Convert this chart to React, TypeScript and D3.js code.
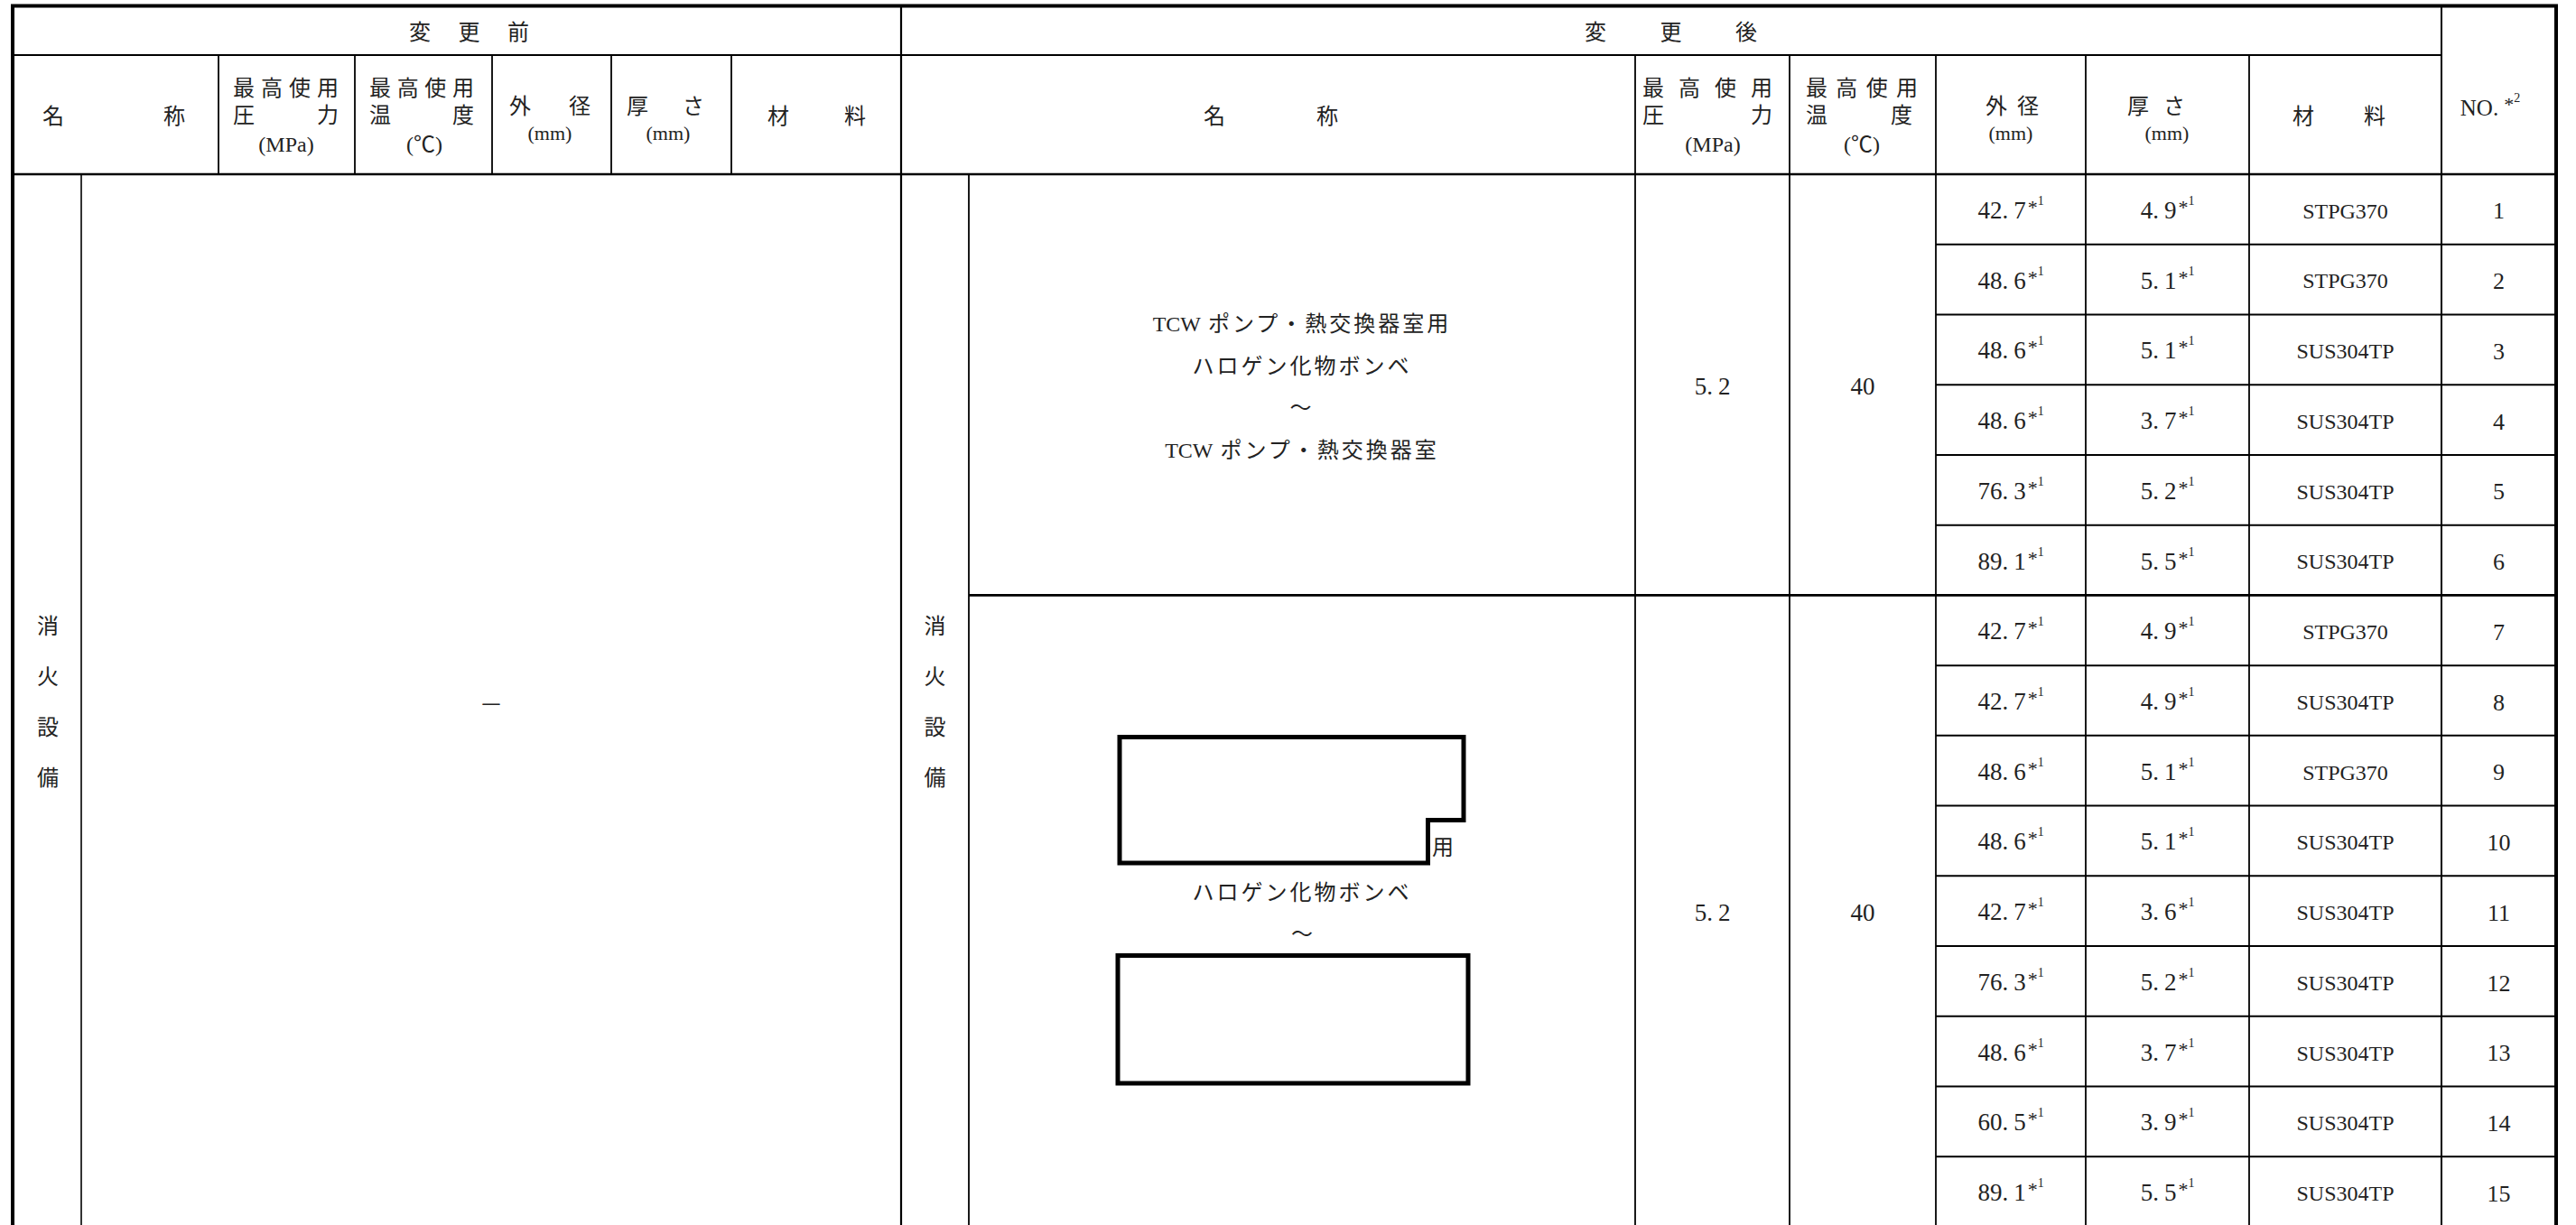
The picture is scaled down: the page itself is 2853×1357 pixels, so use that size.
import React from "react";
import * as d3 from "d3";

// ---------------- data ----------------
const beforeTitle = ["変", "更", "前"];
const afterTitle = ["変", "更", "後"];
const nameHeader = ["名", "称"];
const pressureHeader = ["最高使用", "圧力", "(MPa)"];
const temperatureHeader = ["最高使用", "温度", "(℃)"];
const diameterHeader = ["外径", "(mm)"];
const thicknessHeader = ["厚さ", "(mm)"];
const materialHeader = ["材料"];
const numberHeader = ["NO.", "*", "2"];
const facilityName = ["消", "火", "設", "備"];
const beforeValue = "—";
const group1Name = ["TCW ポンプ・熱交換器室用", "ハロゲン化物ボンベ", "～", "TCW ポンプ・熱交換器室"];
const group2Name = ["ハロゲン化物ボンベ", "～"];
const group2Suffix = "用";
const groupRowCounts = [6, 9];
const groupPressure = ["5.2", "5.2"];
const groupTemperature = ["40", "40"];
const outerDiameters = ["42.7", "48.6", "48.6", "48.6", "76.3", "89.1", "42.7", "42.7", "48.6", "48.6", "42.7", "76.3", "48.6", "60.5", "89.1"];
const wallThicknesses = ["4.9", "5.1", "5.1", "3.7", "5.2", "5.5", "4.9", "4.9", "5.1", "5.1", "3.6", "5.2", "3.7", "3.9", "5.5"];
const materials = ["STPG370", "STPG370", "SUS304TP", "SUS304TP", "SUS304TP", "SUS304TP", "STPG370", "SUS304TP", "STPG370", "SUS304TP", "SUS304TP", "SUS304TP", "SUS304TP", "SUS304TP", "SUS304TP"];
const pipeNumbers = ["1", "2", "3", "4", "5", "6", "7", "8", "9", "10", "11", "12", "13", "14", "15"];
const footnote = ["*", "1"];

// ---------------- layout ----------------
const W = 2853;
const H = 1357;
const X = {
  left: 14, subB: 90, b1: 242, b2: 393, b3: 545, b4: 677, b5: 810, mid: 998,
  subA: 1073, a1: 1811, a2: 1982, a3: 2144, a4: 2310, a5: 2491, a6: 2704, right: 2831,
};
const Y = { top: 6.5, h1: 61, h2: 193, end: 1359 };
const CJK = "'Noto Sans CJK JP', sans-serif";
const SERIF = "'Liberation Serif', 'Noto Sans CJK JP', serif";
const INK = "#222";

const totalRows = d3.sum(groupRowCounts);
const yRow = d3.scaleLinear().domain([0, totalRows]).range([Y.h2, Y.end]);
const groupStarts = [0, ...d3.cumsum(groupRowCounts)];

function spread(text: string, x0: number, x1: number) {
  const chars = Array.from(text);
  const s = d3.scalePoint<number>().domain(d3.range(chars.length)).range([x0, x1]);
  return chars.map((c, i) => ({ c, x: s(i) as number }));
}

type TP = { x: number; cy: number; size?: number; family?: string; ls?: number; children: React.ReactNode; anchor?: string };
const T = ({ x, cy, size = 24, family = CJK, ls = 0, children, anchor = "middle" }: TP) => (
  <text x={x} y={cy + size * 0.37} fontSize={size} fontFamily={family} fill={INK} textAnchor={anchor as any} letterSpacing={ls}>
    {children}
  </text>
);

const Spread = ({ text, x0, x1, cy, size = 24 }: { text: string; x0: number; x1: number; cy: number; size?: number }) => (
  <g>
    {spread(text, x0, x1).map((d, i) => (
      <T key={i} x={d.x} cy={cy} size={size}>{d.c}</T>
    ))}
  </g>
);

// Latin prefix kept tight, Japanese part letter-spaced like the source
const NameLine = ({ text }: { text: string }) => {
  const sp = text.indexOf(" ");
  if (sp < 0) return <tspan letterSpacing={3}>{text}</tspan>;
  return (
    <>
      <tspan letterSpacing={0}>{text.slice(0, sp)}</tspan>
      <tspan dx={8} letterSpacing={3}>{text.slice(sp + 1)}</tspan>
    </>
  );
};

// decimal number rendered in the "42. 7" style of the source (gap after the point)
const Dec = ({ value }: { value: string }) => {
  const [a, b] = value.split(".");
  return (
    <>
      <tspan>{a + (b !== undefined ? "." : "")}</tspan>
      {b !== undefined && <tspan dx={6}>{b}</tspan>}
    </>
  );
};

const NumSup = ({ x, cy, value }: { x: number; cy: number; value: string }) => (
  <text x={x} y={cy + 10} fontSize={27} fontFamily={SERIF} fill={INK} textAnchor="middle">
    <Dec value={value} />
    <tspan fontSize={22} dx={2} dy={-5}>{footnote[0]}</tspan>
    <tspan fontSize={14} dy={-10}>{footnote[1]}</tspan>
  </text>
);

type HL = { x1: number; x2: number; y: number; w?: number };
type VL = { x: number; y1: number; y2: number; w?: number };

export default function App() {
  const rowCenters = d3.range(totalRows).map((i) => (yRow(i) + yRow(i + 1)) / 2);
  const groupCenters = groupRowCounts.map((n, g) => (yRow(groupStarts[g]) + yRow(groupStarts[g] + n)) / 2);

  const hLines: HL[] = [
    { x1: X.left, x2: X.a6, y: Y.h1, w: 2 },
    { x1: X.left, x2: X.right, y: Y.h2, w: 2.5 },
  ];
  d3.range(1, totalRows).forEach((k) => {
    const isGroupEdge = groupStarts.includes(k);
    hLines.push({ x1: isGroupEdge ? X.subA : X.a3, x2: X.right, y: yRow(k), w: isGroupEdge ? 2.6 : 2 });
  });
  const bottom = 1400;
  const vLines: VL[] = [
    { x: X.subB, y1: Y.h2, y2: bottom, w: 1.6 },
    ...[X.b1, X.b2, X.b3, X.b4, X.b5].map((x) => ({ x, y1: Y.h1, y2: Y.h2, w: 1.8 })),
    { x: X.mid, y1: Y.top, y2: bottom, w: 2.2 },
    { x: X.subA, y1: Y.h2, y2: bottom, w: 1.8 },
    ...[X.a1, X.a2, X.a3, X.a4, X.a5].map((x) => ({ x, y1: Y.h1, y2: bottom, w: 1.8 })),
    { x: X.a6, y1: Y.top, y2: bottom, w: 2 },
  ];

  const facilityYs = d3.scalePoint<number>().domain(d3.range(facilityName.length)).range([693, 861]);
  const g1NameYs = d3.scalePoint<number>().domain(d3.range(group1Name.length)).range([358, 498]);
  const nameCx = (X.subA + X.a1) / 2;

  return (
    <>
      <style>{`html,body{margin:0;padding:0;overflow:hidden;background:#fff}`}</style>
      <svg width={W} height={H} viewBox={`0 0 ${W} ${H}`} style={{ display: "block" }}>
        <rect x={0} y={0} width={W} height={H} fill="#fff" />

        {/* grid lines */}
        {hLines.map((l, i) => (
          <line key={"h" + i} x1={l.x1} x2={l.x2} y1={l.y} y2={l.y} stroke="#000" strokeWidth={l.w} />
        ))}
        {vLines.map((l, i) => (
          <line key={"v" + i} x1={l.x} x2={l.x} y1={l.y1} y2={l.y2} stroke="#000" strokeWidth={l.w} />
        ))}
        <path d={`M${X.left},${bottom} V${Y.top} H${X.right} V${bottom}`} fill="none" stroke="#000" strokeWidth={4} />

        {/* header row 1 */}
        <Spread text={beforeTitle.join("")} x0={465} x1={574} cy={35} />
        <Spread text={afterTitle.join("")} x0={1767} x1={1934} cy={35} />

        {/* header row 2 : before */}
        <Spread text={nameHeader.join("")} x0={59} x1={193} cy={128} />
        <Spread text={pressureHeader[0]} x0={270} x1={363} cy={97} />
        <Spread text={pressureHeader[1]} x0={270} x1={363} cy={127} />
        <T x={317} cy={159} family={SERIF}>{pressureHeader[2]}</T>
        <Spread text={temperatureHeader[0]} x0={421} x1={513} cy={97} />
        <Spread text={temperatureHeader[1]} x0={421} x1={513} cy={127} />
        <T x={470} cy={159} family={SERIF}>{temperatureHeader[2]}</T>
        <Spread text={diameterHeader[0]} x0={576} x1={642} cy={117} />
        <T x={609} cy={147} size={22} family={SERIF}>{diameterHeader[1]}</T>
        <Spread text={thicknessHeader[0]} x0={706} x1={768} cy={117} />
        <T x={740} cy={147} size={22} family={SERIF}>{thicknessHeader[1]}</T>
        <Spread text={materialHeader[0]} x0={862} x1={947} cy={128} />

        {/* header row 2 : after */}
        <Spread text={nameHeader.join("")} x0={1345} x1={1470} cy={128} />
        <Spread text={pressureHeader[0]} x0={1831} x1={1951} cy={97} />
        <Spread text={pressureHeader[1]} x0={1831} x1={1951} cy={127} />
        <T x={1897} cy={159} family={SERIF}>{pressureHeader[2]}</T>
        <Spread text={temperatureHeader[0]} x0={2012} x1={2112} cy={97} />
        <Spread text={temperatureHeader[1]} x0={2012} x1={2106} cy={127} />
        <T x={2062} cy={159} family={SERIF}>{temperatureHeader[2]}</T>
        <Spread text={diameterHeader[0]} x0={2211} x1={2246} cy={117} />
        <T x={2227} cy={147} size={22} family={SERIF}>{diameterHeader[1]}</T>
        <Spread text={thicknessHeader[0]} x0={2368} x1={2408} cy={117} />
        <T x={2400} cy={147} size={22} family={SERIF}>{thicknessHeader[1]}</T>
        <Spread text={materialHeader[0]} x0={2551} x1={2630} cy={128} />
        <text x={2758} y={128} fontSize={25} fontFamily={SERIF} fill={INK} textAnchor="middle">
          <tspan>{numberHeader[0]}</tspan>
          <tspan fontSize={22} dx={6} dy={-5}>{numberHeader[1]}</tspan>
          <tspan fontSize={14} dy={-10}>{numberHeader[2]}</tspan>
        </text>

        {/* body : before */}
        {facilityName.map((c, i) => (
          <T key={"fb" + i} x={(X.left + X.subB) / 2 + 1} cy={facilityYs(i) as number}>{c}</T>
        ))}
        <T x={(X.subB + X.mid) / 2} cy={778}>{beforeValue}</T>

        {/* body : after, facility label */}
        {facilityName.map((c, i) => (
          <T key={"fa" + i} x={(X.mid + X.subA) / 2} cy={facilityYs(i) as number}>{c}</T>
        ))}

        {/* group 1 name */}
        {group1Name.map((s, i) => (
          <T key={"g1" + i} x={nameCx} cy={g1NameYs(i) as number} family={SERIF}>
            <NameLine text={s} />
          </T>
        ))}

        {/* group 2 name (with redacted boxes) */}
        <path d="M1240,816.5 H1621 V908.5 H1581.5 V956 H1240 Z" fill="none" stroke="#000" strokeWidth={5} />
        <T x={1598} cy={938}>{group2Suffix}</T>
        <T x={nameCx} cy={988} ls={3}>{group2Name[0]}</T>
        <T x={nameCx} cy={1034}>{group2Name[1]}</T>
        <rect x={1238} y={1058.5} width={388} height={141.5} fill="none" stroke="#000" strokeWidth={5} />

        {/* merged pressure / temperature */}
        {groupRowCounts.map((_, g) => (
          <g key={"gp" + g}>
            <text x={(X.a1 + X.a2) / 2} y={groupCenters[g] + 11} fontSize={27} fontFamily={SERIF} fill={INK} textAnchor="middle">
              <Dec value={groupPressure[g]} />
            </text>
            <T x={(X.a2 + X.a3) / 2} cy={groupCenters[g] + 1} size={27} family={SERIF}>{groupTemperature[g]}</T>
          </g>
        ))}

        {/* per-row values */}
        {rowCenters.map((cy, i) => (
          <g key={"r" + i}>
            <NumSup x={(X.a3 + X.a4) / 2} cy={cy} value={outerDiameters[i]} />
            <NumSup x={(X.a4 + X.a5) / 2} cy={cy} value={wallThicknesses[i]} />
            <T x={(X.a5 + X.a6) / 2} cy={cy + 1} size={24} family={SERIF}>{materials[i]}</T>
            <T x={(X.a6 + X.right) / 2} cy={cy + 1} size={26} family={SERIF}>{pipeNumbers[i]}</T>
          </g>
        ))}
      </svg>
    </>
  );
}
